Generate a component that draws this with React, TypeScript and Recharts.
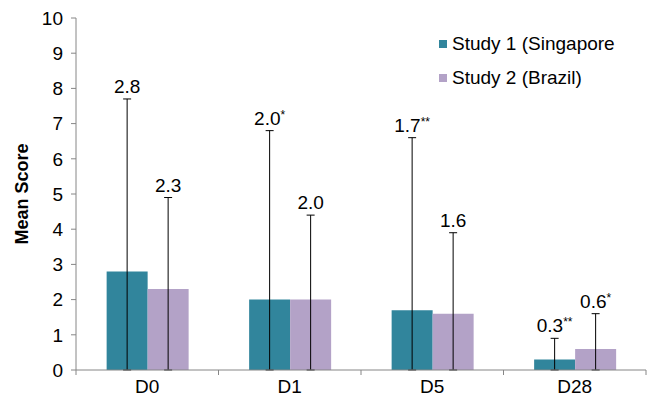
import React from "react";
import { BarChart, Bar, XAxis, YAxis, ErrorBar, LabelList, Legend, Label } from "recharts";

document.body.style.margin = "0";

const days = ["D0", "D1", "D5", "D28"];

const singapore = [2.8, 2.0, 1.7, 0.3];
const singaporeSd = [4.9, 4.8, 4.9, 0.6];
const singaporeLabels = ["2.8", "2.0*", "1.7**", "0.3**"];

const brazil = [2.3, 2.0, 1.6, 0.6];
const brazilSd = [2.6, 2.4, 2.3, 1.0];
const brazilLabels = ["2.3", "2.0", "1.6", "0.6*"];

const yTicks = [0, 1, 2, 3, 4, 5, 6, 7, 8, 9, 10];

const TEAL = "#31859c";
const LAVENDER = "#b3a2c7";
const AXIS = "#868686";
const FONT = "'Liberation Sans', Arial, sans-serif";

const CHART_W = 654;
const CHART_H = 400;
const Y_AXIS_W = 76;
const MARGIN_RIGHT = 8;
const X_TICK_SIZE = 5;
const X_TICK_MARGIN = 5;
const HALF_BAND = (CHART_W - Y_AXIS_W - MARGIN_RIGHT) / days.length / 2;

// whiskers run from the axis (value minus itself) up to value + sd
const chartData = days.map((day, i) => ({
  day,
  sg: singapore[i],
  sgErr: [singapore[i], singaporeSd[i]],
  sgLabel: singaporeLabels[i],
  br: brazil[i],
  brErr: [brazil[i], brazilSd[i]],
  brLabel: brazilLabels[i],
}));

// value label sits just above the error bar cap, stars drawn smaller and raised
function capLabel(values: number[], sds: number[]) {
  return (props: any) => {
    const vb = props.viewBox || props;
    const { x, y, width } = vb;
    const height = Math.abs(vb.height);
    const i = props.index;
    const perUnit = height / values[i];
    const capY = y - sds[i] * perUnit;
    const m = String(props.value).match(/^([\d.]+)(\**)$/);
    const num = m ? m[1] : String(props.value);
    const stars = m ? m[2] : "";
    return (
      <text
        x={x + width / 2}
        y={capY - 6}
        textAnchor="middle"
        fontSize={19}
        fontFamily={FONT}
        fill="#000"
      >
        {num}
        {stars && (
          <tspan fontSize={12} dy={-6}>
            {stars}
          </tspan>
        )}
      </text>
    );
  };
}

// category label in the middle, tick marks on the category boundaries
function DayTick(props: any) {
  const { x, y, payload, index, visibleTicksCount } = props;
  const y1 = y - X_TICK_MARGIN - X_TICK_SIZE;
  const y2 = y - X_TICK_MARGIN;
  return (
    <g>
      <line x1={x - HALF_BAND} x2={x - HALF_BAND} y1={y1} y2={y2} stroke={AXIS} />
      {index === visibleTicksCount - 1 && (
        <line x1={x + HALF_BAND} x2={x + HALF_BAND} y1={y1} y2={y2} stroke={AXIS} />
      )}
      <text x={x} y={y} dy="0.71em" textAnchor="middle" fontSize={19} fontFamily={FONT} fill="#000">
        {payload.value}
      </text>
    </g>
  );
}

function StudyLegend({ payload }: any) {
  return (
    <div style={{ fontFamily: FONT, fontSize: 19, color: "#000" }}>
      {(payload || []).map((entry: any) => (
        <div
          key={entry.value}
          style={{ display: "flex", alignItems: "center", height: 34, whiteSpace: "nowrap" }}
        >
          <span
            style={{
              width: 8,
              height: 8,
              background: entry.color,
              marginRight: 5,
              display: "inline-block",
            }}
          />
          {entry.value}
        </div>
      ))}
    </div>
  );
}

export default function App() {
  return (
    <div style={{ width: CHART_W, height: CHART_H, background: "#fff" }}>
      <BarChart
        width={CHART_W}
        height={CHART_H}
        data={chartData}
        margin={{ top: 18, right: MARGIN_RIGHT, bottom: 0, left: 0 }}
        barCategoryGap="21.5%"
        barGap={0}
      >
        <YAxis
          width={Y_AXIS_W}
          domain={[0, 10]}
          ticks={yTicks}
          allowDataOverflow
          stroke={AXIS}
          tickSize={5}
          tickMargin={8}
          tick={{ fill: "#000", fontSize: 19, fontFamily: FONT }}
        >
          <Label
            value="Mean Score"
            angle={-90}
            position="insideLeft"
            offset={22}
            style={{ textAnchor: "middle", fontWeight: "bold", fontSize: 18, fontFamily: FONT, fill: "#000" }}
          />
        </YAxis>
        <Legend
          layout="vertical"
          align="center"
          verticalAlign="middle"
          wrapperStyle={{ left: 439, top: 27, width: 215 }}
          content={<StudyLegend />}
        />
        <Bar dataKey="sg" name="Study 1 (Singapore" fill={TEAL} isAnimationActive={false}>
          <ErrorBar dataKey="sgErr" direction="y" width={4} stroke="#000" strokeWidth={1} isAnimationActive={false} />
          <LabelList dataKey="sgLabel" content={capLabel(singapore, singaporeSd)} />
        </Bar>
        <Bar dataKey="br" name="Study 2 (Brazil)" fill={LAVENDER} isAnimationActive={false}>
          <ErrorBar dataKey="brErr" direction="y" width={4} stroke="#000" strokeWidth={1} isAnimationActive={false} />
          <LabelList dataKey="brLabel" content={capLabel(brazil, brazilSd)} />
        </Bar>
        <XAxis
          dataKey="day"
          height={30}
          stroke={AXIS}
          tickLine={false}
          tickSize={X_TICK_SIZE}
          tickMargin={X_TICK_MARGIN}
          tick={<DayTick />}
          interval={0}
        />
      </BarChart>
    </div>
  );
}
